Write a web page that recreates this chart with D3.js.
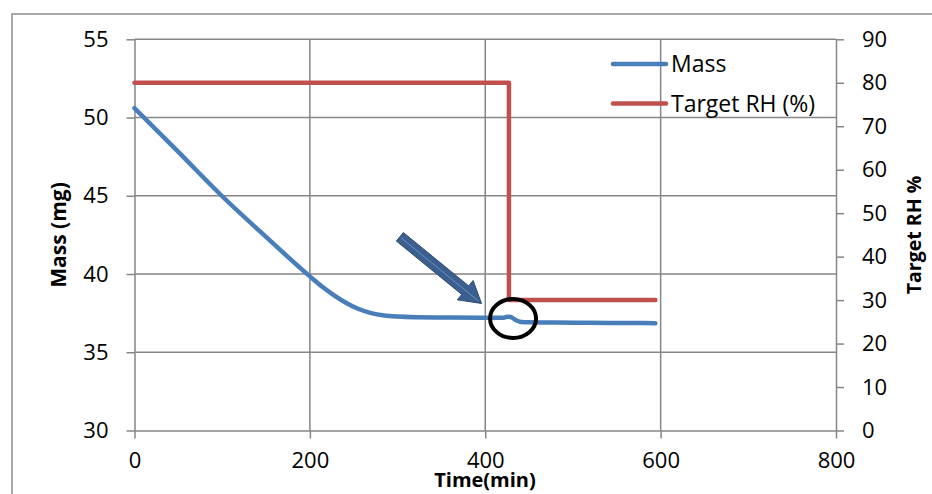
<!DOCTYPE html>
<html>
<head>
<meta charset="utf-8">
<script src="https://cdn.jsdelivr.net/npm/d3@7"></script>
<style>
  html, body { margin: 0; padding: 0; background: #fff; }
  svg { display: block; }
  text { font-family: "Open Sans", "Noto Sans", sans-serif; fill: #000; }
</style>
</head>
<body>
<svg id="chart" width="932" height="494"></svg>
<script>
// Sample mass over time (min)
const massTime   = [0, 50, 100, 150, 200, 215, 228, 240, 255, 270, 285, 300, 320, 360, 400, 420, 425, 429, 433, 437, 441, 450, 480, 520, 560, 594];
const massValues = [50.6, 47.8, 44.97, 42.37, 39.85, 39.15, 38.62, 38.2, 37.78, 37.5, 37.35, 37.28, 37.24, 37.22, 37.2, 37.2, 37.27, 37.25, 37.12, 37.0, 36.94, 36.91, 36.9, 36.88, 36.87, 36.86];

// Target relative humidity step
const rhTime   = [0, 427, 427, 594];
const rhValues = [80, 80, 30, 30];

// Axis ticks
const timeTicks = [0, 200, 400, 600, 800];
const massTicks = [30, 35, 40, 45, 50, 55];
const rhTicks   = [0, 10, 20, 30, 40, 50, 60, 70, 80, 90];

// Legend entries
const legendLabels = ["Mass", "Target RH (%)"];
const legendColors = ["#4a7ebb", "#c0504d"];

// Annotation: arrow (tail -> tip) and ellipse centre, in data units (time, mass)
const arrowTail = [302.6, 42.38];
const arrowTip  = [395.7, 38.12];
const ringCenter = [431.7, 37.16];

const svg = d3.select("#chart");
const gridColor = "#868686";

const x  = d3.scaleLinear().domain([0, 800]).range([134.5, 836]);
const yL = d3.scaleLinear().domain([30, 55]).range([430.5, 39.3]);
const yR = d3.scaleLinear().domain([0, 90]).range([430.5, 39.3]);

// Outer chart frame
svg.append("path")
  .attr("d", "M12,494 L12,14 L932,14")
  .attr("fill", "none").attr("stroke", "#8c8c8c").attr("stroke-width", 1.5);

// Gridlines
const grid = svg.append("g").attr("stroke", gridColor).attr("stroke-width", 1.5);
grid.selectAll("line.h").data(massTicks.filter(d => d > 30)).join("line")
  .attr("x1", x(0)).attr("x2", x(800))
  .attr("y1", d => yL(d)).attr("y2", d => yL(d));
grid.selectAll("line.v").data(timeTicks.filter(d => d > 0 && d < 800)).join("line")
  .attr("x1", d => x(d)).attr("x2", d => x(d))
  .attr("y1", yL(55)).attr("y2", yL(30));

// Axes
function styleAxis(g) {
  g.selectAll(".domain").attr("stroke", gridColor).attr("stroke-width", 1.5);
  g.selectAll(".tick line").attr("stroke", gridColor).attr("stroke-width", 1.5);
  g.selectAll(".tick text").attr("font-size", 22).attr("font-family", "Open Sans");
}

svg.append("g")
  .attr("transform", `translate(0,${yL(30)})`)
  .call(d3.axisBottom(x).tickValues(timeTicks).tickSize(8).tickSizeOuter(0).tickPadding(14))
  .call(styleAxis);

svg.append("g")
  .attr("transform", `translate(${x(0)},0)`)
  .call(d3.axisLeft(yL).tickValues(massTicks).tickSize(8).tickSizeOuter(0).tickPadding(18))
  .call(styleAxis);

svg.append("g")
  .attr("transform", `translate(${x(800)},0)`)
  .call(d3.axisRight(yR).tickValues(rhTicks).tickSize(8).tickSizeOuter(0).tickPadding(18))
  .call(styleAxis);

// Series
const massData = massTime.map((t, i) => [t, massValues[i]]);
const rhData = rhTime.map((t, i) => [t, rhValues[i]]);

svg.append("path")
  .datum(rhData)
  .attr("fill", "none").attr("stroke", legendColors[1]).attr("stroke-width", 4.5)
  .attr("stroke-linejoin", "round").attr("stroke-linecap", "round")
  .attr("d", d3.line().x(d => x(d[0])).y(d => yR(d[1])));

svg.append("path")
  .datum(massData)
  .attr("fill", "none").attr("stroke", legendColors[0]).attr("stroke-width", 4.5)
  .attr("stroke-linejoin", "round").attr("stroke-linecap", "round")
  .attr("d", d3.line().curve(d3.curveMonotoneX).x(d => x(d[0])).y(d => yL(d[1])));

// Legend
const legend = svg.append("g");
legendLabels.forEach((label, i) => {
  const ly = 64 + i * 39.5;
  legend.append("line")
    .attr("x1", 613).attr("x2", 666).attr("y1", ly).attr("y2", ly)
    .attr("stroke", legendColors[i]).attr("stroke-width", 4.5).attr("stroke-linecap", "round");
  legend.append("text")
    .attr("x", 671).attr("y", ly + 8)
    .attr("font-size", 23).text(label);
});

// Axis titles
svg.append("text")
  .attr("transform", `translate(66,235) rotate(-90)`)
  .attr("text-anchor", "middle").attr("font-weight", "bold").attr("font-size", 21)
  .text("Mass (mg)");

svg.append("text")
  .attr("transform", `translate(921,235) rotate(-90)`)
  .attr("text-anchor", "middle").attr("font-weight", "bold").attr("font-size", 19.5)
  .text("Target RH %");

svg.append("text")
  .attr("x", 485).attr("y", 487)
  .attr("text-anchor", "middle").attr("font-weight", "bold").attr("font-size", 20)
  .text("Time(min)");

// Arrow pointing at the humidity step
(function drawArrow() {
  const x0 = x(arrowTail[0]), y0 = yL(arrowTail[1]);
  const x1 = x(arrowTip[0]),  y1 = yL(arrowTip[1]);
  const dx = x1 - x0, dy = y1 - y0, len = Math.hypot(dx, dy);
  const ux = dx / len, uy = dy / len, nx = -uy, ny = ux;
  const shaftW = 5.5, headW = 12.5, headL = 21;
  const bx = x1 - ux * headL, by = y1 - uy * headL;
  const pts = [
    [x0 + nx * shaftW, y0 + ny * shaftW],
    [bx + nx * shaftW, by + ny * shaftW],
    [bx + nx * headW,  by + ny * headW],
    [x1, y1],
    [bx - nx * headW,  by - ny * headW],
    [bx - nx * shaftW, by - ny * shaftW],
    [x0 - nx * shaftW, y0 - ny * shaftW]
  ];
  svg.append("polygon")
    .attr("points", pts.map(p => p.join(",")).join(" "))
    .attr("fill", "#3b5f8f").attr("stroke", "#2c4a72").attr("stroke-width", 1);
  svg.append("line")
    .attr("x1", x0 + ux * 2).attr("y1", y0 + uy * 2)
    .attr("x2", x1 - ux * 4).attr("y2", y1 - uy * 4)
    .attr("stroke", "#6b8fc2").attr("stroke-width", 1);
})();

// Ring around the step response
svg.append("ellipse")
  .attr("cx", x(ringCenter[0])).attr("cy", yL(ringCenter[1]))
  .attr("rx", 23).attr("ry", 19.5)
  .attr("fill", "none").attr("stroke", "#000").attr("stroke-width", 4);
</script>
</body>
</html>
